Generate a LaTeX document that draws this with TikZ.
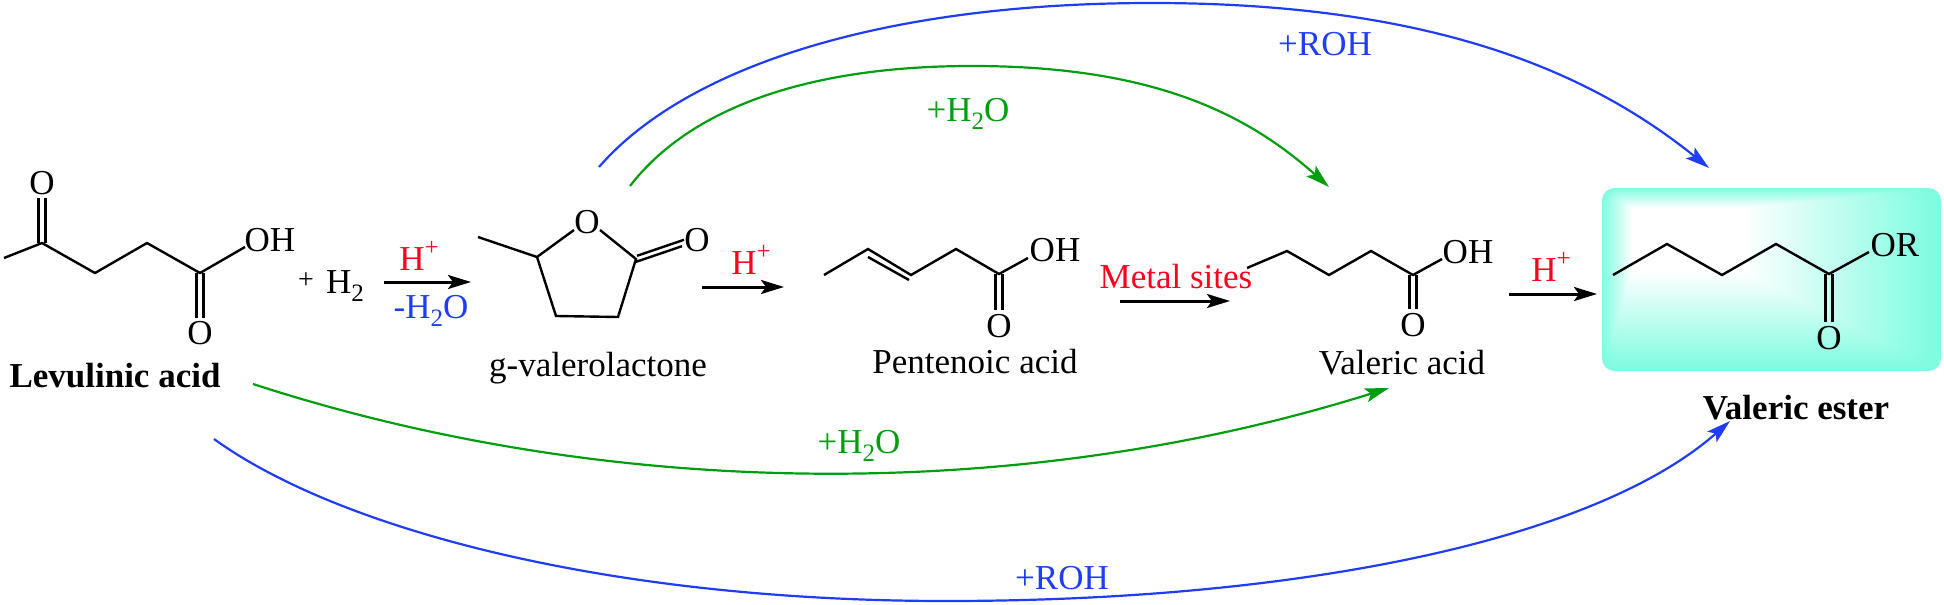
\documentclass[tikz,border=0pt]{standalone}
\usepackage{fontspec}
\setmainfont{Liberation Serif}
\usetikzlibrary{arrows.meta}
\definecolor{boxcyan}{RGB}{125,252,224}
\definecolor{chemgreen}{RGB}{0,158,15}
\definecolor{chemblue}{RGB}{30,60,250}
\definecolor{chemred}{RGB}{255,0,30}
\newcommand{\lowtwo}{\raisebox{-.24em}{\fontsize{25}{25}\selectfont 2}}
\newcommand{\highplus}{\raisebox{.42em}{\fontsize{25}{25}\selectfont +}}
\tikzset{
  txt/.style={inner sep=0pt,font=\fontsize{35}{40}\selectfont},
  boldtxt/.style={txt,font=\fontsize{35}{40}\selectfont\bfseries},
  redtxt/.style={txt,text=chemred},
  bluetxt/.style={txt,text=chemblue},
  greentxt/.style={txt,text=chemgreen},
  bond/.style={line width=2.4pt,line join=miter,black},
  react/.style={line width=3pt,black,-{Stealth[length=23pt,width=14pt,inset=5pt]}},
  greenarc/.style={line width=2.2pt,chemgreen,-{Stealth[length=24pt,width=14pt,inset=5pt]}},
  bluearc/.style={line width=2.2pt,chemblue,-{Stealth[length=24pt,width=14pt,inset=5pt]}},
}
\begin{document}
\begin{tikzpicture}[x=1pt,y=-1pt]
\useasboundingbox (0,0) rectangle (1944,605);
% highlighted box
\foreach \i in {0,...,48}{
  \pgfmathsetmacro\t{\i/48}
  \pgfmathsetmacro\p{100*\t}
  \pgfmathsetmacro\xa{1602+30*\t}
  \pgfmathsetmacro\ya{188+20*\t}
  \pgfmathsetmacro\xb{1941-196*\t}
  \pgfmathsetmacro\yb{371-99*\t}
  \pgfmathsetmacro\rr{12*(1-\t)+0.5}
  \fill[white!\p!boxcyan,rounded corners=\rr pt] (\xa,\ya) rectangle (\xb,\yb);
}
% Levulinic acid
\coordinate (a1) at (4,258);
\coordinate (a2) at (42,243);
\coordinate (a3) at (95,273);
\coordinate (a4) at (147,243);
\coordinate (a5) at (200,273);
\coordinate (a6) at (245,247);
\coordinate (a7) at (42,198);
\coordinate (a8) at (200,318);
\node[txt] (aO1) at (42,183) {O};
\node[txt] (aOH) at (270,240) {OH};
\node[txt] (aO2) at (200,333) {O};
\draw[bond] (a1)--(a2)--(a3)--(a4)--(a5)--(a6);
\draw[bond] ([xshift=-3.5pt]a2)--([xshift=-3.5pt]a7);
\draw[bond] ([xshift=3.5pt]a2)--([xshift=3.5pt]a7);
\draw[bond] ([xshift=-3.5pt]a5)--([xshift=-3.5pt]a8);
\draw[bond] ([xshift=3.5pt]a5)--([xshift=3.5pt]a8);
\node[boldtxt] (lev) at (115,376) {Levulinic acid};
\node[txt,font=\fontsize{28}{30}\selectfont] (plus) at (306,281) {+};
\node[txt] (h2) at (345,286) {H\lowtwo};
% arrow 1
\coordinate (r1a) at (384,282);
\coordinate (r1b) at (471,282);
\draw[react] (r1a)--(r1b);
\node[redtxt] (r1t) at (419,256) {H\highplus};
\node[bluetxt] (r1w) at (431,311) {-H\lowtwo O};
% g-valerolactone
\coordinate (b1) at (478,237);
\coordinate (b2) at (537,257);
\coordinate (b3) at (574,230);
\coordinate (b4) at (600,230);
\coordinate (b5) at (636,259);
\coordinate (b6) at (618,317);
\coordinate (b7) at (556,316);
\coordinate (b8) at (683,243);
\node[txt] (bO) at (587,222) {O};
\node[txt] (bO2) at (697,240) {O};
\draw[bond] (b1)--(b2)--(b3);
\draw[bond] (b4)--(b5)--(b6)--(b7)--(b2);
\draw[bond] ([shift={(1pt,3.2pt)}]b5)--([shift={(1pt,3.2pt)}]b8);
\draw[bond] ([shift={(-1pt,-3.2pt)}]b5)--([shift={(-1pt,-3.2pt)}]b8);
\node[txt] (gval) at (598,368) {g-valerolactone};
% arrow 2
\coordinate (r2a) at (702,287);
\coordinate (r2b) at (784,287);
\draw[react] (r2a)--(r2b);
\node[redtxt] (r2t) at (751,260) {H\highplus};
% Pentenoic acid
\coordinate (c1) at (824,275);
\coordinate (c2) at (868,249);
\coordinate (c3) at (911,275);
\coordinate (c4) at (956,249);
\coordinate (c5) at (999,274);
\coordinate (c6) at (1028,258);
\coordinate (c7) at (999,310);
\coordinate (c2i) at (868,257);
\coordinate (c3i) at (909,280);
\node[txt] (cOH) at (1055,250) {OH};
\node[txt] (cO) at (999,326) {O};
\draw[bond] (c1)--(c2)--(c3)--(c4)--(c5)--(c6);
\draw[bond] (c2i)--(c3i);
\draw[bond] ([xshift=-3.5pt]c5)--([xshift=-3.5pt]c7);
\draw[bond] ([xshift=3.5pt]c5)--([xshift=3.5pt]c7);
\node[txt] (pent) at (975,362) {Pentenoic acid};
% Valeric acid
\coordinate (d1) at (1247,268);
\coordinate (d2) at (1287,251);
\coordinate (d3) at (1329,275);
\coordinate (d4) at (1371,251);
\coordinate (d5) at (1413,275);
\coordinate (d6) at (1442,259);
\coordinate (d7) at (1413,309);
\node[txt] (dOH) at (1468,252) {OH};
\node[txt] (dO) at (1413,325) {O};
\draw[bond] (d1)--(d2)--(d3)--(d4)--(d5)--(d6);
\draw[bond] ([xshift=-3.5pt]d5)--([xshift=-3.5pt]d7);
\draw[bond] ([xshift=3.5pt]d5)--([xshift=3.5pt]d7);
\node[txt] (val) at (1402,363) {Valeric acid};
% arrow 3
\coordinate (r3a) at (1120,301);
\coordinate (r3b) at (1230,301);
\draw[react] (r3a)--(r3b);
\node[redtxt] (r3t) at (1176,277) {Metal sites};
% arrow 4
\coordinate (r4a) at (1509,294);
\coordinate (r4b) at (1597,294);
\draw[react] (r4a)--(r4b);
\node[redtxt] (r4t) at (1551,267) {H\highplus};
% Valeric ester
\coordinate (e1) at (1613,275);
\coordinate (e2) at (1667,244);
\coordinate (e3) at (1722,275);
\coordinate (e4) at (1776,244);
\coordinate (e5) at (1829,274);
\coordinate (e6) at (1869,252);
\coordinate (e7) at (1829,322);
\node[txt] (eOR) at (1895,245) {OR};
\node[txt] (eO) at (1829,338) {O};
\draw[bond] (e1)--(e2)--(e3)--(e4)--(e5)--(e6);
\draw[bond] ([xshift=-3.5pt]e5)--([xshift=-3.5pt]e7);
\draw[bond] ([xshift=3.5pt]e5)--([xshift=3.5pt]e7);
\node[boldtxt] (est) at (1796,408) {Valeric ester};
% curved arrows
\coordinate (u1) at (599,167);
\coordinate (u2) at (1152,3);
\coordinate (u3) at (1709,168);
\draw[bluearc] (u1) .. controls (685,68) and (880,3) .. (u2) .. controls (1425,3) and (1585,68) .. (u3);
\coordinate (v1) at (630,186);
\coordinate (v2) at (972,66);
\coordinate (v3) at (1329,187);
\draw[greenarc] (v1) .. controls (687,112) and (800,66) .. (v2) .. controls (1150,66) and (1245,112) .. (v3);
\coordinate (w1) at (253,384);
\coordinate (w2) at (1389,388);
\draw[greenarc] (w1) .. controls (616,502) and (1026,502) .. (w2);
\coordinate (z1) at (214,439);
\coordinate (z2) at (946,601);
\coordinate (z3) at (1730,421);
\draw[bluearc] (z1) .. controls (340,530) and (610,601) .. (z2) .. controls (1300,601) and (1595,540) .. (z3);
\node[bluetxt] (roh1) at (1325,44) {+ROH};
\node[greentxt] (wat1) at (968,114) {+H\lowtwo O};
\node[greentxt] (wat2) at (859,446) {+H\lowtwo O};
\node[bluetxt] (roh2) at (1062,578) {+ROH};
\end{tikzpicture}
\end{document}
